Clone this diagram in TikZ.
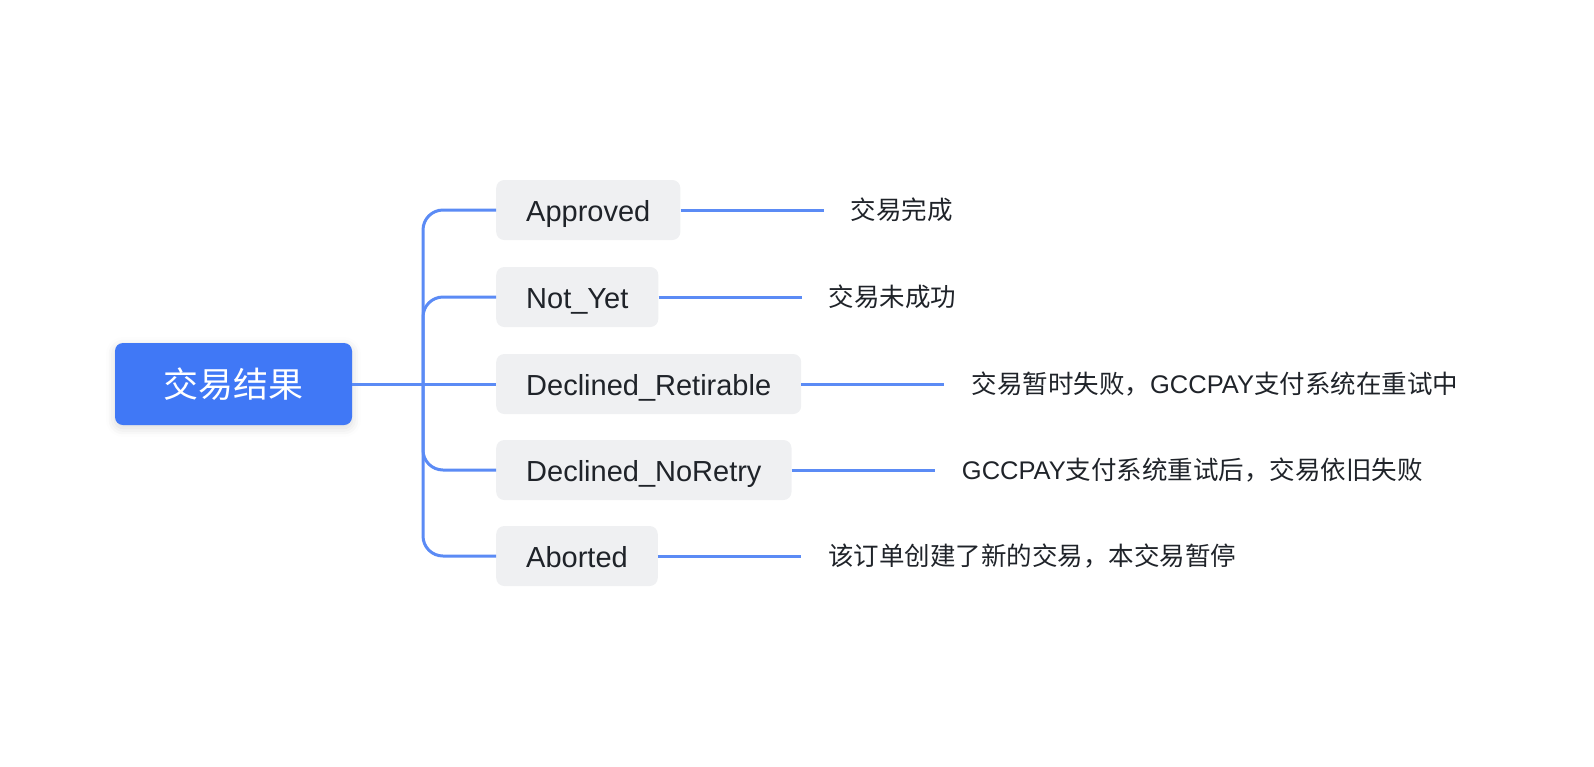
\documentclass[tikz,border=0pt]{standalone}
\usepackage{fontspec}
\setmainfont{Liberation Sans}
\newfontfamily\cjk{Noto Sans CJK SC}
\usetikzlibrary{positioning,shadows.blur}
\definecolor{rootblue}{RGB}{64,120,246}
\definecolor{linkblue}{RGB}{91,139,245}
\definecolor{childgray}{RGB}{239,240,242}
\definecolor{inkdark}{RGB}{31,35,41}
\tikzset{
  rootbox/.style={fill=rootblue, rounded corners=8pt, minimum width=237pt, minimum height=82pt,
    text=white, font=\cjk\fontsize{35}{40}\selectfont, inner sep=0pt,
    blur shadow={shadow xshift=0pt, shadow yshift=-3pt, shadow blur radius=9pt, shadow opacity=15}},
  childbox/.style={fill=childgray, rounded corners=8pt, minimum height=60pt, inner xsep=30pt,
    text height=24pt, text depth=2pt,
    text=inkdark, font=\fontsize{29}{34}\selectfont, anchor=west},
  leaf/.style={text=inkdark, font=\cjk\fontsize{25.5}{30}\selectfont, inner xsep=27pt, inner ysep=0pt},
  conn/.style={draw=linkblue, line width=3pt},
}
\newcommand{\lat}[1]{{\fontspec{Liberation Sans}#1}}
\begin{document}
\begin{tikzpicture}[x=1pt,y=-1pt]
\useasboundingbox (0,0) rectangle (1594,766);
\node[rootbox] (root) at (233.5,384) {交易结果};
\coordinate (trunk) at (423,384);
\node[childbox] (c1) at (496,210) {Approved};
\node[childbox] (c2) at (496,297) {Not\_Yet};
\node[childbox] (c3) at (496,384) {Declined\_Retirable};
\node[childbox] (c4) at (496,470) {Declined\_NoRetry};
\node[childbox] (c5) at (496,556) {Aborted};
\node[leaf, right=143pt of c1] (l1) {交易完成};
\node[leaf, right=143pt of c2] (l2) {交易未成功};
\node[leaf, right=143pt of c3] (l3) {交易暂时失败，\lat{GCCPAY}支付系统在重试中};
\node[leaf, right=143pt of c4] (l4) {\lat{GCCPAY}支付系统重试后，交易依旧失败};
\node[leaf, right=143pt of c5] (l5) {该订单创建了新的交易，本交易暂停};
\draw[conn] (root.east) -- (c3.west);
\draw[conn, rounded corners=20pt] (trunk) |- (c1.west);
\draw[conn, rounded corners=20pt] (trunk) |- (c2.west);
\draw[conn, rounded corners=20pt] (trunk) |- (c4.west);
\draw[conn, rounded corners=20pt] (trunk) |- (c5.west);
\foreach \i in {1,...,5}{\draw[conn] (c\i.east) -- (l\i.west);}
\end{tikzpicture}
\end{document}
